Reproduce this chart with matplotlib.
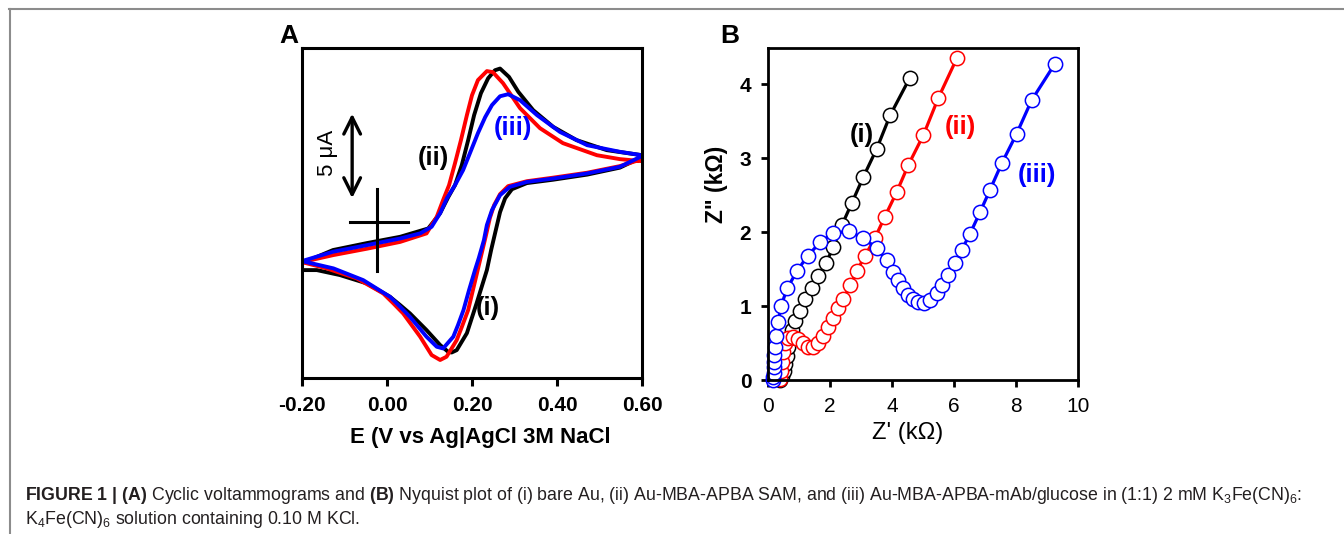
import numpy as np
import matplotlib
matplotlib.use('Agg')
from matplotlib import pyplot as plt
from matplotlib.lines import Line2D

plt.rcParams['font.family'] = ['Liberation Sans', 'DejaVu Sans']
plt.rcParams['mathtext.fontset'] = 'custom'
plt.rcParams['mathtext.rm'] = 'Liberation Sans'
plt.rcParams['mathtext.bf'] = 'Liberation Sans:bold'
plt.rcParams['mathtext.it'] = 'Liberation Sans:italic'

# ---- panel A: cyclic voltammograms (E in V, I in uA, offset arbitrary) ----
# forward scan (-0.2 -> 0.6) followed by reverse scan (0.6 -> -0.2)
E_i = [-0.200, -0.127, -0.047, 0.031, 0.097, 0.125, 0.144, 0.160, 0.176, 0.191, 0.205, 0.221,
       0.238, 0.254, 0.266, 0.287, 0.309, 0.344, 0.391, 0.446, 0.517, 0.600,
       0.600, 0.548, 0.471, 0.391, 0.329, 0.294, 0.278, 0.266, 0.256, 0.245, 0.235, 0.211,
       0.188, 0.164, 0.152, 0.144, 0.125, 0.093, 0.054, 0.031, 0.007, -0.048, -0.111, -0.165, -0.200]
I_i = [-0.06, 0.71, 1.12, 1.49, 1.98, 2.88, 3.82, 4.53, 5.71, 7.18, 8.65, 9.94,
       10.82, 11.29, 11.39, 10.90, 10.02, 8.94, 7.96, 7.18, 6.59, 6.29,
       6.18, 5.56, 5.15, 4.85, 4.65, 4.29, 3.76, 2.94, 1.88, 0.71, -0.47, -2.41,
       -4.18, -5.18, -5.32, -5.28, -4.88, -4.00, -3.02, -2.53, -2.04, -1.25, -0.76, -0.47, -0.47]

E_ii = [-0.200, -0.127, -0.047, 0.031, 0.093, 0.117, 0.132, 0.146, 0.160, 0.174, 0.188, 0.200,
        0.214, 0.235, 0.249, 0.273, 0.313, 0.360, 0.414, 0.494, 0.548, 0.600,
        0.600, 0.548, 0.471, 0.391, 0.329, 0.285, 0.266, 0.252, 0.242, 0.233, 0.219, 0.205,
        0.191, 0.176, 0.164, 0.140, 0.125, 0.105, 0.078, 0.038, 0.015, -0.009, -0.071, -0.142, -0.200]
I_ii = [0.00, 0.41, 0.79, 1.19, 1.69, 2.66, 3.65, 4.53, 5.82, 7.18, 8.65, 9.82,
        10.71, 11.24, 11.18, 10.53, 9.06, 7.88, 7.00, 6.29, 6.06, 5.94,
        6.06, 5.65, 5.26, 4.97, 4.76, 4.47, 4.00, 3.35, 2.59, 1.59, 0.12, -1.35,
        -2.82, -3.82, -4.59, -5.57, -5.76, -5.47, -4.39, -3.02, -2.43, -1.84, -0.96, -0.37, 0.00]

E_iii = [-0.200, -0.127, -0.047, 0.031, 0.078, 0.105, 0.125, 0.141, 0.160, 0.179, 0.198, 0.214,
         0.231, 0.247, 0.266, 0.285, 0.313, 0.353, 0.407, 0.471, 0.548, 0.600,
         0.600, 0.548, 0.471, 0.391, 0.329, 0.289, 0.266, 0.247, 0.235, 0.228, 0.216, 0.207,
         0.193, 0.180, 0.167, 0.156, 0.132, 0.117, 0.093, 0.054, 0.031, 0.007, -0.056, -0.126, -0.200]
I_iii = [0.06, 0.61, 1.00, 1.39, 1.69, 2.08, 2.88, 3.76, 4.53, 5.41, 6.59, 7.59,
         8.53, 9.24, 9.76, 9.88, 9.53, 8.65, 7.66, 6.88, 6.49, 6.29,
         6.24, 5.61, 5.22, 4.92, 4.72, 4.43, 3.94, 3.06, 2.18, 1.29, 0.24, -0.47,
         -1.65, -2.82, -3.71, -4.39, -5.08, -4.98, -4.39, -3.22, -2.63, -2.04, -1.06, -0.37, 0.06]

cv_xticks = [-0.20, 0.00, 0.20, 0.40, 0.60]
cv_xticklabels = ['-0.20', '0.00', '0.20', '0.40', '0.60']

# ---- panel B: Nyquist plot (kOhm) ----
Zr_i = [0.40, 0.45, 0.50, 0.55, 0.60, 0.65, 0.70, 0.76, 0.87, 1.03, 1.19, 1.41, 1.62, 1.87,
        2.11, 2.38, 2.70, 3.08, 3.51, 3.94, 4.58]
Zi_i = [0.00, 0.05, 0.12, 0.22, 0.33, 0.45, 0.57, 0.68, 0.80, 0.93, 1.10, 1.24, 1.40, 1.58,
        1.80, 2.09, 2.39, 2.75, 3.13, 3.58, 4.09]

Zr_ii = [0.40, 0.42, 0.45, 0.49, 0.55, 0.66, 0.82, 0.98, 1.14, 1.30, 1.46, 1.62, 1.79, 1.95,
         2.11, 2.27, 2.43, 2.65, 2.86, 3.13, 3.45, 3.77, 4.15, 4.53, 5.01, 5.49, 6.09]
Zi_ii = [0.02, 0.12, 0.25, 0.38, 0.50, 0.57, 0.58, 0.55, 0.50, 0.45, 0.45, 0.50, 0.60, 0.72,
         0.84, 0.97, 1.10, 1.28, 1.47, 1.68, 1.92, 2.21, 2.54, 2.91, 3.31, 3.81, 4.35]

Zr_iii = [0.15, 0.17, 0.18, 0.18, 0.19, 0.20, 0.22, 0.26, 0.33, 0.42, 0.62, 0.93, 1.28, 1.68,
          2.11, 2.60, 3.08, 3.51, 3.83, 4.04, 4.20, 4.37, 4.53, 4.69, 4.85, 5.03, 5.23, 5.44,
          5.60, 5.82, 6.03, 6.25, 6.52, 6.84, 7.16, 7.54, 8.02, 8.50, 9.26]
Zi_iii = [0.00, 0.04, 0.10, 0.17, 0.25, 0.34, 0.45, 0.60, 0.78, 1.00, 1.24, 1.47, 1.68, 1.86,
          1.99, 2.01, 1.92, 1.78, 1.62, 1.46, 1.35, 1.24, 1.15, 1.09, 1.05, 1.04, 1.08, 1.17,
          1.28, 1.42, 1.58, 1.76, 1.98, 2.27, 2.57, 2.93, 3.33, 3.78, 4.28]

colors = ['#000000', '#ff0000', '#0000ff']

fig = plt.figure(figsize=(13.44, 5.34), dpi=100)

# page frame (grey lines top and left)
fig.add_artist(Line2D([9 / 1344, 1], [1 - 8.5 / 534, 1 - 8.5 / 534], color='#8c8c8c', lw=1.5))
fig.add_artist(Line2D([9.5 / 1344, 9.5 / 1344], [0, 1 - 8.5 / 534], color='#8c8c8c', lw=1.5))

# ---------------- panel A ----------------
axA = fig.add_axes([302 / 1344, 1 - 378 / 534, 340 / 1344, 330 / 534])
for E, I, c in zip([E_i, E_ii, E_iii], [I_i, I_ii, I_iii], colors):
    axA.plot(E, I, color=c, lw=2.8, solid_joinstyle='round', solid_capstyle='round')
axA.set_xlim(-0.2, 0.6)
axA.set_ylim(-6.82, 12.6)
axA.set_xticks(cv_xticks)
axA.set_xticklabels(cv_xticklabels, fontsize=15, fontweight='bold')
axA.set_yticks([])
axA.tick_params(axis='x', direction='out', length=6, width=2.2, pad=7)
for s in axA.spines.values():
    s.set_linewidth(2.2)
axA.set_xlabel('E (V vs Ag|AgCl 3M NaCl', fontsize=16, fontweight='bold')
axA.xaxis.set_label_coords(0.524, -0.15)

# scale bar and cross
axA.annotate('', xy=(-0.082, 8.9), xytext=(-0.082, 3.6),
             arrowprops=dict(arrowstyle='<->', lw=2.4, color='black', mutation_scale=30))
axA.text(-0.141, 6.4, '5 μA', rotation=90, fontsize=16, ha='center', va='center')
axA.plot([-0.087, 0.049], [2.35, 2.35], color='black', lw=2.2)
axA.plot([-0.0235, -0.0235], [4.3, -0.5], color='black', lw=2.2)

axA.text(0.108, 6.1, '(ii)', fontsize=18.5, fontweight='bold', color='black', ha='center', va='center')
axA.text(0.296, 7.9, '(iii)', fontsize=18.5, fontweight='bold', color='#0000ff', ha='center', va='center')
axA.text(0.238, -2.7, '(i)', fontsize=18.5, fontweight='bold', color='black', ha='center', va='center')
fig.text(289 / 1344, 1 - 36 / 534, 'A', fontsize=19, fontweight='bold', ha='center', va='center')

# ---------------- panel B ----------------
axB = fig.add_axes([768 / 1344, 1 - 380 / 534, 310 / 1344, 332 / 534])
for x, y, c in zip([Zr_i, Zr_ii, Zr_iii], [Zi_i, Zi_ii, Zi_iii], colors):
    axB.plot(x, y, color=c, lw=2.3, marker='o', markersize=10.3, markerfacecolor='white',
             markeredgecolor=c, markeredgewidth=1.1, clip_on=False)
axB.set_xlim(0, 10)
axB.set_ylim(0, 4.49)
axB.set_xticks([0, 2, 4, 6, 8, 10])
axB.set_yticks([0, 1, 2, 3, 4])
axB.set_xticklabels(['0', '2', '4', '6', '8', '10'], fontsize=15)
axB.set_yticklabels(['0', '1', '2', '3', '4'], fontsize=15, fontweight='bold')
axB.tick_params(direction='out', length=5, width=2, pad=7)
for s in axB.spines.values():
    s.set_linewidth(2)
axB.set_xlabel("Z' (kΩ)", fontsize=17)
axB.xaxis.set_label_coords(0.45, -0.125)
axB.set_ylabel('Z" (kΩ)', fontsize=16.5, fontweight='bold')
axB.yaxis.set_label_coords(-0.13, 0.59)

axB.text(3.02, 3.31, '(i)', fontsize=18.5, fontweight='bold', color='black', ha='center', va='center')
axB.text(6.19, 3.42, '(ii)', fontsize=18.5, fontweight='bold', color='#ff0000', ha='center', va='center')
axB.text(8.67, 2.77, '(iii)', fontsize=18.5, fontweight='bold', color='#0000ff', ha='center', va='center')
fig.text(730 / 1344, 1 - 36 / 534, 'B', fontsize=19, fontweight='bold', ha='center', va='center')

# ---------------- caption ----------------
cap1 = (r'$\bf{FIGURE\ 1\ |\ (A)}$ Cyclic voltammograms and $\bf{(B)}$ Nyquist plot of (i) bare Au, '
        r'(ii) Au-MBA-APBA SAM, and (iii) Au-MBA-APBA-mAb/glucose in (1:1) 2 mM K$_3$Fe(CN)$_6$:')
cap2 = r'K$_4$Fe(CN)$_6$ solution containing 0.10 M KCl.'
fig.text(25 / 1344, 1 - 496 / 534, cap1, fontsize=12.8, color='#231f20', ha='left', va='center')
fig.text(25 / 1344, 1 - 519 / 534, cap2, fontsize=12.8, color='#231f20', ha='left', va='center')

plt.savefig('out.png', dpi=100)
